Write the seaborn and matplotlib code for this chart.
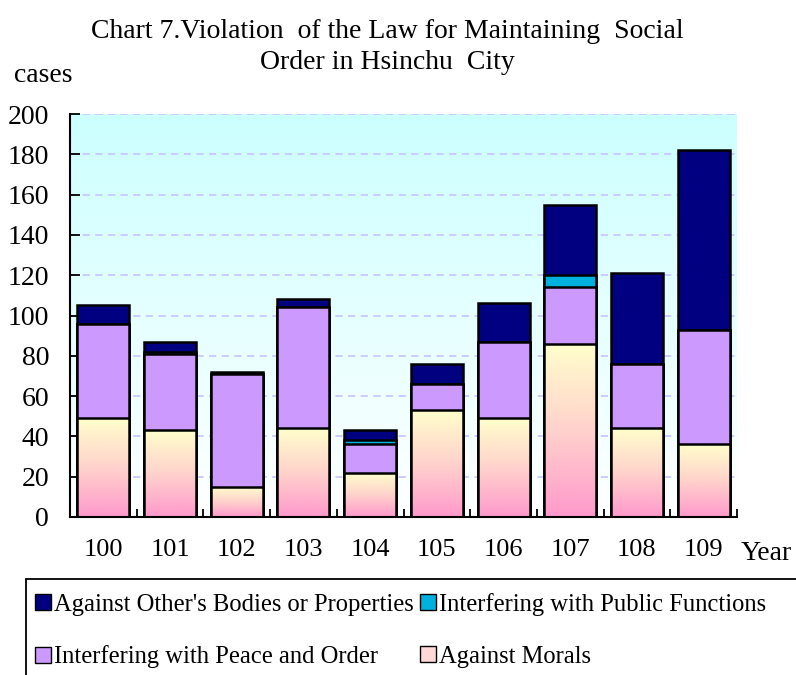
import numpy as np
import pandas as pd
import matplotlib
matplotlib.use("Agg")
import matplotlib.pyplot as plt
import seaborn as sns
from matplotlib.colors import LinearSegmentedColormap
from matplotlib.lines import Line2D

# ---- data ----
years = ["100", "101", "102", "103", "104", "105", "106", "107", "108", "109"]
against_morals = [49, 43, 15, 44, 22, 53, 49, 86, 44, 36]
peace_order = [47, 38, 56, 60, 14, 13, 38, 28, 32, 57]
public_functions = [0, 1, 0, 0, 2, 0, 0, 6, 0, 0]
bodies_properties = [9, 5, 1, 4, 5, 10, 19, 35, 45, 89]
y_ticks = [0, 20, 40, 60, 80, 100, 120, 140, 160, 180, 200]

series_names = ["Against Other's Bodies or Properties", "Interfering with Public Functions",
                "Interfering with Peace and Order", "Against Morals"]

sns.set_theme(style="white")
plt.rcParams["font.family"] = ["Liberation Serif", "DejaVu Serif"]
plt.rcParams["text.color"] = "black"
plt.rcParams["xtick.color"] = "black"
plt.rcParams["ytick.color"] = "black"
plt.rcParams["axes.labelcolor"] = "black"

df = pd.DataFrame({"year": years, "morals": against_morals, "peace": peace_order,
                   "public": public_functions, "bodies": bodies_properties})
df["c1"] = df["morals"]
df["c2"] = df["c1"] + df["peace"]
df["c3"] = df["c2"] + df["public"]
df["c4"] = df["c3"] + df["bodies"]

fig = plt.figure(figsize=(7.96, 6.75), dpi=100)
ax = fig.add_axes([70 / 796, 1 - 517 / 675, (737 - 70) / 796, (517 - 114) / 675])

col_bodies = "#000080"
col_public = "#00B0DD"
col_peace = "#CC99FF"
col_morals = "#FFFFCC"

layers = [("c4", col_bodies), ("c3", col_public), ("c2", col_peace), ("c1", col_morals)]
for key, colr in layers:
    sns.barplot(data=df, x="year", y=key, order=years, color=colr, saturation=1,
                width=0.78, edgecolor="black", linewidth=1.8, ax=ax, zorder=2)

# gradient on Against Morals bars
grad_cmap = LinearSegmentedColormap.from_list("mor", ["#FF99CC", "#FFD2CC", "#FFFFCC"])
grad = np.linspace(0, 1, 256).reshape(-1, 1)
for p in ax.containers[-1]:
    x0, y0 = p.get_x(), p.get_y()
    w, h = p.get_width(), p.get_height()
    im = ax.imshow(grad, cmap=grad_cmap, origin="lower", aspect="auto",
                   extent=[x0, x0 + w, y0, y0 + h], zorder=2.5)
    im.set_clip_path(p)
    p.set_facecolor("none")
    p.set_zorder(3)

# background gradient
bg_cmap = LinearSegmentedColormap.from_list("bg", ["#FFFFFF", "#CCFFFF"])
ax.imshow(grad, cmap=bg_cmap, origin="lower", aspect="auto",
          extent=[-0.5, 9.5, 0, 200], zorder=0)

ax.set_xlim(-0.5, 9.5)
ax.set_ylim(0, 200)
ax.set_yticks(y_ticks)
ax.set_yticklabels([str(t) for t in y_ticks], fontsize=20)
ax.set_xticks(range(len(years)))
ax.set_xticklabels(years, fontsize=19)
ax.set_xticks(np.arange(-0.5, 10, 1), minor=True)
ax.tick_params(axis="x", which="major", length=0, pad=16)
ax.tick_params(axis="x", which="minor", direction="in", length=6, width=1.3, bottom=True)
ax.tick_params(axis="y", which="major", direction="in", length=7, width=1.3, left=True, pad=15)
ax.set_xlabel("")
ax.set_ylabel("")

ax.yaxis.grid(True, linestyle=(0, (4, 3)), color="#C8C8FF", linewidth=1.3)
ax.set_axisbelow(True)
for s in ["top", "right"]:
    ax.spines[s].set_visible(False)
for s in ["left", "bottom"]:
    ax.spines[s].set_color("black")
    ax.spines[s].set_linewidth(1.5)
    ax.spines[s].set_zorder(4)

# texts
fig.text(387 / 796, 1 - 47 / 675, "Chart 7.Violation  of the Law for Maintaining  Social\nOrder in Hsinchu  City",
         ha="center", va="center", fontsize=20, linespacing=1.3)
fig.text(14 / 796, 1 - 76 / 675, "cases", ha="left", va="center", fontsize=20)
fig.text(741 / 796, 1 - 553 / 675, "Year", ha="left", va="center", fontsize=20)

# legend
msz = 11
handles = [
    Line2D([], [], marker="s", linestyle="", markerfacecolor=col_bodies, markeredgecolor="black", markersize=msz),
    Line2D([], [], marker="s", linestyle="", markerfacecolor=col_peace, markeredgecolor="black", markersize=msz),
    Line2D([], [], marker="s", linestyle="", markerfacecolor=col_public, markeredgecolor="black", markersize=msz),
    Line2D([], [], marker="s", linestyle="", markerfacecolor="#FFD8D8", markeredgecolor="black", markersize=msz),
]
labels = [series_names[0], series_names[2], series_names[1], series_names[3]]
fig.legend(handles, labels, ncol=2, frameon=False, loc="upper left",
           bbox_to_anchor=(36 / 796, 1 - 593 / 675), fontsize=17.7, handlelength=0.6,
           handletextpad=0.15, columnspacing=0.25, labelspacing=1.2, borderaxespad=0, borderpad=0)

fig.add_artist(Line2D([26 / 796, 26 / 796], [0, 1 - 579 / 675], transform=fig.transFigure,
                      color="black", linewidth=1.3))
fig.add_artist(Line2D([26 / 796, 1], [1 - 579 / 675, 1 - 579 / 675], transform=fig.transFigure,
                      color="black", linewidth=1.3))

fig.savefig("out.png", dpi=100)
